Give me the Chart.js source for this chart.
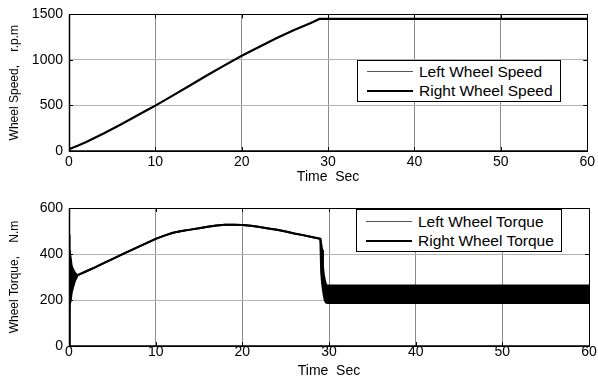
<!DOCTYPE html>
<html>
<head>
<meta charset="utf-8">
<script src="https://cdn.jsdelivr.net/npm/chart.js@4.4.1/dist/chart.umd.min.js"></script>
<style>
  body { margin: 0; background: #fff; }
  #wrapper { position: relative; width: 598px; height: 380px; }
  .panel { position: absolute; left: 0; width: 598px; height: 190px; }
  .legende {
    position: absolute;
    background: #fff;
    border: 1px solid #000;
    padding-right: 7px;
    font: 15.5px "Liberation Sans", Arial, sans-serif;
    color: #000;
  }
  .eintrag { display: flex; align-items: center; height: 19px; white-space: nowrap; }
  .linie { width: 46px; height: 0; margin-left: 9px; margin-right: 6px; }
</style>
</head>
<body>
<div id="wrapper">
  <div class="panel" style="top:0"><canvas id="canvasOben" width="598" height="190"></canvas></div>
  <div class="panel" style="top:190px"><canvas id="canvasUnten" width="598" height="190"></canvas></div>
  <div id="legendeOben" class="legende" style="left:357px; top:60px; height:39px; padding-top:1px"></div>
  <div id="legendeUnten" class="legende" style="left:356px; top:209px; height:39px; padding-top:2px"></div>
</div>
<script>
// Raddrehzahl in r.p.m ueber der Zeit
const zeitDrehzahl = [0, 1, 2, 3, 4, 5, 6, 7, 8, 9, 10, 12, 14, 16, 18, 20, 22, 24, 26, 28, 29, 60];
const drehzahlLinks = [20, 58, 100, 145, 192, 242, 292, 344, 396, 448, 498, 608, 720, 832, 940, 1045, 1143, 1238, 1325, 1405, 1450, 1450];
const drehzahlRechts = [20, 58, 100, 145, 192, 242, 292, 344, 396, 448, 498, 608, 720, 832, 940, 1045, 1143, 1238, 1325, 1405, 1450, 1450];

// Radmoment in N.m: obere und untere Huellkurve des schwingenden Signals
const zeitMoment = [0, 0.02, 0.1, 0.2, 0.3, 0.5, 0.7, 0.9, 1, 2, 3, 4, 5, 6, 7, 8, 9, 10, 11, 12, 13, 14, 15, 16, 17, 18, 19, 20, 21, 22, 23, 24, 25, 26, 27, 28, 29, 29.1, 29.2, 29.3, 29.4, 29.5, 29.6, 29.7, 29.8, 60];
const momentOben = [0, 484, 420, 380, 350, 330, 318, 310, 308, 325, 342, 360, 378, 396, 414, 431, 448, 466, 480, 492, 500, 506, 512, 518, 524, 527, 527, 526, 523, 517, 511, 505, 498, 489, 482, 474, 466, 445, 418, 345, 310, 290, 275, 265, 263, 263];
const momentUnten = [0, 20, 175, 200, 230, 260, 285, 300, 308, 325, 342, 360, 378, 396, 414, 431, 448, 466, 480, 492, 500, 506, 512, 518, 524, 527, 527, 526, 523, 517, 511, 505, 498, 489, 482, 474, 466, 320, 274, 245, 220, 200, 192, 188, 187, 187];

const xTicks = [0, 10, 20, 30, 40, 50, 60];

Chart.defaults.font.family = '"Liberation Sans", Arial, sans-serif';
Chart.defaults.color = "#000";

function punkte(zeit, werte) {
  return zeit.map((t, i) => ({ x: t, y: werte[i] }));
}

// Rahmen um die Zeichenflaeche und kurze Teilstriche nach innen
const rahmenPlugin = {
  id: "rahmen",
  afterDraw(chart) {
    const { ctx, chartArea: a, scales } = chart;
    ctx.save();
    ctx.strokeStyle = "#000";
    ctx.lineWidth = 1;
    ctx.beginPath();
    scales.x.ticks.forEach((t) => {
      const px = Math.round(scales.x.getPixelForValue(t.value)) + 0.5;
      ctx.moveTo(px, a.top);
      ctx.lineTo(px, a.top + 4);
      ctx.moveTo(px, a.bottom);
      ctx.lineTo(px, a.bottom - 4);
    });
    scales.y.ticks.forEach((t) => {
      const py = Math.round(scales.y.getPixelForValue(t.value)) + 0.5;
      ctx.moveTo(a.left, py);
      ctx.lineTo(a.left + 4, py);
      ctx.moveTo(a.right, py);
      ctx.lineTo(a.right - 4, py);
    });
    ctx.stroke();
    ctx.strokeRect(Math.round(a.left) + 0.5, Math.round(a.top) + 0.5, Math.round(a.right - a.left), Math.round(a.bottom - a.top));
    // linke und untere Achse etwas kraeftiger
    ctx.lineWidth = 1.5;
    ctx.beginPath();
    ctx.moveTo(Math.round(a.left) + 0.5, a.top);
    ctx.lineTo(Math.round(a.left) + 0.5, a.bottom);
    ctx.lineTo(a.right, a.bottom);
    ctx.stroke();
    ctx.restore();
  },
};

function erstelleDiagramm(canvasID, datasets, yMax, yStep, yTitel, einstellung) {
  const canvas = document.getElementById(canvasID).getContext("2d");
  return new Chart(canvas, {
    type: "line",
    data: { datasets: datasets },
    plugins: [rahmenPlugin],
    options: {
      responsive: false,
      animation: false,
      layout: {
        padding: { top: einstellung.oben, right: 9, left: 0, bottom: 0 },
      },
      elements: {
        point: { radius: 0 },
        line: { tension: 0 },
      },
      plugins: {
        legend: { display: false },
        tooltip: { enabled: false },
      },
      scales: {
        x: {
          type: "linear",
          min: 0,
          max: 60,
          afterBuildTicks: (scale) => {
            scale.ticks = xTicks.map((v) => ({ value: v }));
          },
          afterFit: (scale) => {
            scale.height = einstellung.xHoehe;
          },
          grid: { color: "#8c8c8c", drawTicks: false },
          border: { display: false },
          ticks: {
            font: { size: 14 },
            padding: einstellung.tickAbstand,
            maxRotation: 0,
            callback: (v) => String(v),
          },
          title: {
            display: true,
            text: "Time  Sec",
            font: { size: 14 },
            padding: { top: 0, bottom: einstellung.titelAbstand },
          },
        },
        y: {
          min: 0,
          max: yMax,
          afterFit: (scale) => {
            scale.width = 69;
          },
          grid: { color: "#b4b4b4", drawTicks: false },
          border: { display: false },
          ticks: { stepSize: yStep, font: { size: 14 }, padding: 6, callback: (v) => String(v) },
          title: {
            display: true,
            text: yTitel,
            font: { size: 12 },
            padding: { top: 7, bottom: 0 },
          },
        },
      },
    },
  });
}

// Legende als Kasten in der Zeichenflaeche
function erstelleLegende(divID, eintraege) {
  const div = document.getElementById(divID);
  eintraege.forEach((e) => {
    const zeile = document.createElement("div");
    zeile.className = "eintrag";
    const linie = document.createElement("div");
    linie.className = "linie";
    linie.style.borderTop = e.borderWidth + "px solid " + e.borderColor;
    const text = document.createElement("span");
    text.textContent = e.label;
    zeile.appendChild(linie);
    zeile.appendChild(text);
    div.appendChild(zeile);
  });
}

const datenDrehzahl = [
  {
    label: "Right Wheel Speed",
    data: punkte(zeitDrehzahl, drehzahlRechts),
    borderColor: "#000",
    borderWidth: 2.2,
  },
  {
    label: "Left Wheel Speed",
    data: punkte(zeitDrehzahl, drehzahlLinks),
    borderColor: "#555",
    borderWidth: 1,
  },
];

const datenMoment = [
  {
    label: "Right Wheel Torque",
    data: punkte(zeitMoment, momentOben),
    borderColor: "#000",
    borderWidth: 2,
  },
  {
    label: "Right Wheel Torque (lower)",
    data: punkte(zeitMoment, momentUnten),
    borderColor: "#000",
    backgroundColor: "#000",
    borderWidth: 2,
    fill: "-1",
  },
  {
    label: "Left Wheel Torque",
    data: punkte(zeitMoment, momentOben),
    borderColor: "#555",
    borderWidth: 1,
  },
];

window.chartOben = erstelleDiagramm("canvasOben", datenDrehzahl, 1500, 500, "Wheel Speed,    r.p.m", {
  oben: 13, xHoehe: 39, tickAbstand: 3, titelAbstand: 4,
});
window.chartUnten = erstelleDiagramm("canvasUnten", datenMoment, 600, 200, "Wheel Torque,    N.m", {
  oben: 18, xHoehe: 34, tickAbstand: -2, titelAbstand: 0,
});

erstelleLegende("legendeOben", [datenDrehzahl[1], datenDrehzahl[0]]);
erstelleLegende("legendeUnten", [datenMoment[2], datenMoment[0]]);
</script>
</body>
</html>
